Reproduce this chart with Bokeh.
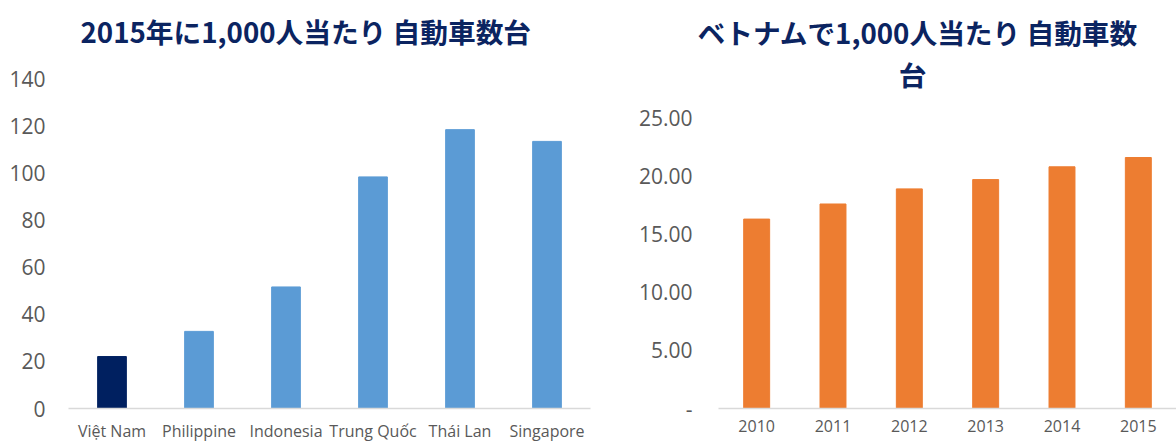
from bokeh.plotting import figure
from bokeh.models import ColumnDataSource, FactorRange, Range1d, FixedTicker, Label, Title
from bokeh.layouts import row
from bokeh.embed import file_html
from bokeh.resources import INLINE

# ---- data ----
countries = ["Việt Nam", "Philippine", "Indonesia", "Trung Quốc", "Thái Lan", "Singapore"]
cars_per_1000_2015 = [22.1, 32.8, 51.7, 98.5, 118.6, 113.6]
left_yticks = [0, 20, 40, 60, 80, 100, 120, 140]

years = ["2010", "2011", "2012", "2013", "2014", "2015"]
vn_cars_per_1000 = [16.3, 17.6, 18.9, 19.7, 20.8, 21.6]
right_yticks = [0, 5, 10, 15, 20, 25]
right_ylabels = ["-", "5.00", "10.00", "15.00", "20.00", "25.00"]

title_left = "2015年に1,000人当たり 自動車数台"
title_right_1 = "ベトナムで1,000人当たり 自動車数"
title_right_2 = "台"

# ---- styles / layout (pixels) ----
NAVY = "#0B2461"
BLUE = "#5B9BD5"
DARK = "#002060"
ORANGE = "#ED7D31"
AXIS = "#D9D9D9"
LABEL = "#595959"
LAT = "Open Sans"
CJK = "Noto Sans CJK JP"

H = 444
TOP = 57
BOTTOM = 35
FRAME_H = H - TOP - BOTTOM

def style_common(p):
    p.xgrid.visible = False
    p.ygrid.visible = False
    p.outline_line_color = None
    p.background_fill_color = "white"
    p.border_fill_color = "white"
    for ax in (p.xaxis, p.yaxis):
        ax.major_tick_out = 0
        ax.major_tick_in = 0
        ax.minor_tick_out = 0
        ax.minor_tick_in = 0
        ax.major_tick_line_color = None
        ax.minor_tick_line_color = None
        ax.axis_label_standoff = 0
        ax.major_label_text_color = LABEL
        ax.major_label_text_font = LAT
    p.yaxis.axis_line_color = None
    p.xaxis.axis_line_color = AXIS
    p.xaxis.axis_line_width = 1.5
    p.xaxis.major_label_text_font_size = "16px"
    p.yaxis.major_label_text_font_size = "21px"
    p.xaxis.major_label_standoff = 11

def title_obj(text, offset, standoff):
    return Title(text=text, align="left", offset=offset, standoff=standoff,
                 text_font=CJK, text_font_style="bold", text_font_size="27.7px",
                 text_color=NAVY)

# ---- left chart ----
L_W, L_LEFT, L_RIGHT = 600, 68, 10
L_TOP_TICK_PX = 20  # distance of the 140 tick below the frame top
l_top = max(left_yticks) * FRAME_H / (FRAME_H - L_TOP_TICK_PX)

bar_colors = [DARK if c == "Việt Nam" else BLUE for c in countries]
src1 = ColumnDataSource(dict(x=countries, top=cars_per_1000_2015, color=bar_colors))
p1 = figure(width=L_W, height=H, x_range=FactorRange(factors=countries, range_padding=0),
            y_range=Range1d(0, l_top), output_backend="svg", toolbar_location=None,
            title=None,
            min_border_left=L_LEFT, min_border_right=L_RIGHT, min_border_top=TOP,
            min_border_bottom=BOTTOM)
p1.vbar(x="x", top="top", width=0.33, color="color", source=src1)
style_common(p1)
p1.yaxis.ticker = FixedTicker(ticks=left_yticks)
p1.yaxis.major_label_standoff = 23
p1.add_layout(title_obj(title_left, 12, 17), "above")

# ---- right chart ----
R_W, R_LEFT, R_RIGHT = 576, 118, 0
R_FRAME_W = R_W - R_LEFT - R_RIGHT
R_TOP_TICK_PX = 59
r_top = max(right_yticks) * FRAME_H / (FRAME_H - R_TOP_TICK_PX)

src2 = ColumnDataSource(dict(x=years, top=vn_cars_per_1000))
p2 = figure(width=R_W, height=H, x_range=FactorRange(factors=years, range_padding=0),
            y_range=Range1d(0, r_top), output_backend="svg", toolbar_location=None,
            title=None,
            min_border_left=R_LEFT, min_border_right=R_RIGHT, min_border_top=TOP,
            min_border_bottom=BOTTOM)
p2.vbar(x="x", top="top", width=0.34, color=ORANGE, source=src2)
style_common(p2)
p2.yaxis.ticker = FixedTicker(ticks=right_yticks)
p2.yaxis.major_label_overrides = {t: lab for t, lab in zip(right_yticks, right_ylabels)}
p2.yaxis.major_label_standoff = 26
p2.add_layout(title_obj(title_right_1, -21, 15), "above")
# second title line sits inside the plot frame
px_x, px_y = 194, 15
p2.add_layout(Label(x=px_x / R_FRAME_W * len(years), y=(FRAME_H - px_y) / FRAME_H * r_top,
                    text=title_right_2, text_align="center", text_baseline="middle",
                    text_font=CJK, text_font_style="bold", text_font_size="27.7px",
                    text_color=NAVY))

layout = row(p1, p2)
open("out.html", "w").write(file_html(layout, INLINE))
